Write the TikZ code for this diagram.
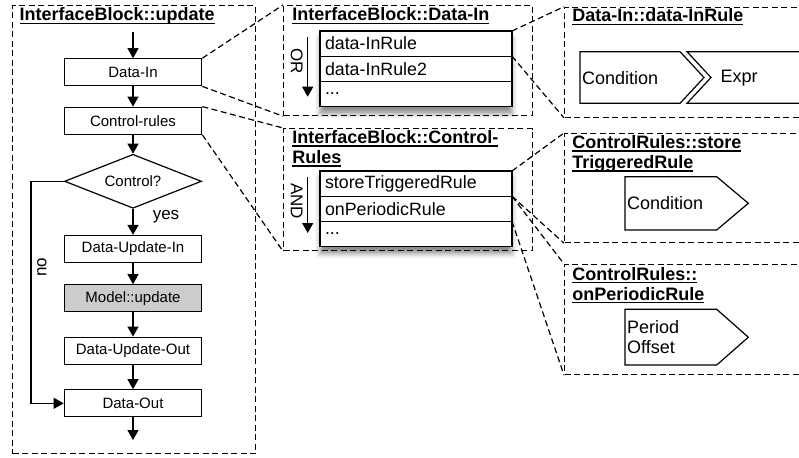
\documentclass[tikz,border=0pt]{standalone}
\usepackage{fontspec}
\setmainfont{Liberation Sans}
\usepackage{tikz}
\usetikzlibrary{arrows.meta,positioning,shapes.geometric,fit,backgrounds,shadows.blur}

\newsavebox\ulbox
\newcommand{\ultext}[1]{\sbox\ulbox{#1}\rlap{\rule[-3.4pt]{\wd\ulbox}{1.3pt}}\usebox\ulbox}

\begin{document}
\begin{tikzpicture}[x=1pt,y=-1pt,line width=1.2pt,
    flowbox/.style={draw,minimum width=137.5pt,minimum height=27pt,inner sep=0pt,font=\fontsize{15}{18}\selectfont},
    decision/.style={draw,diamond,aspect=2.5,minimum width=137pt,minimum height=54pt,inner sep=0pt,font=\fontsize{15}{18}\selectfont},
    flowlabel/.style={inner sep=0pt,font=\fontsize{17}{20}\selectfont},
    oplabel/.style={inner sep=0pt,rotate=-90,font=\fontsize{17}{20}\selectfont},
    zoomframe/.style={draw,dash pattern=on 6pt off 3.5pt,inner sep=0pt,anchor=north west},
    zoomline/.style={dash pattern=on 6pt off 3.5pt},
    boxtitle/.style={anchor=base west,inner sep=0pt,align=left,font=\fontsize{18}{20}\selectfont\bfseries},
    rulerow/.style={draw,fill=white,text width=182pt,inner xsep=5pt,inner ysep=0pt,outer sep=0pt,minimum height=25.2pt,align=left,font=\fontsize{17.8}{20}\selectfont},
    ruletext/.style={anchor=west,inner sep=1pt,align=left,font=\fontsize{18}{20.6}\selectfont},
    flowarrow/.style={-{Triangle[length=10pt,width=11pt]}},
    shadowed/.style={blur shadow={shadow xshift=0pt,shadow yshift=-7pt,shadow blur radius=5pt,shadow opacity=45}}
  ]
  \useasboundingbox (0,0) rectangle (799,457);

  % InterfaceBlock::update
  \node[zoomframe,minimum width=243pt,minimum height=448pt] (fupd) at (12,5) {};
  \node[boxtitle] (tupd) at (19,21) {\ultext{InterfaceBlock::update}};
  \coordinate (start) at (133,32);
  \node[flowbox] (din) at (133,72.3) {Data-In};
  \node[flowbox] (ctrl) at (133,120.7) {Control-rules};
  \node[decision] (dec) at (133,181.3) {Control?};
  \node[flowbox] (dui) at (133,249) {Data-Update-In};
  \node[flowbox,fill=gray!40] (model) at (133,298.3) {Model::update};
  \node[flowbox] (duo) at (133,350.7) {Data-Update-Out};
  \node[flowbox] (dout) at (133,403.3) {Data-Out};
  \coordinate (stop) at (133,440);
  \coordinate (nox) at (31,300);
  \path[flowarrow]
    (start) edge (din)
    (din) edge (ctrl)
    (ctrl) edge (dec)
    (dec) edge (dui)
    (dui) edge (model)
    (model) edge (duo)
    (duo) edge (dout)
    (dout) edge (stop);
  \draw[flowarrow] (dec.west) -| (nox) |- (dout.west);
  \node[flowlabel] (yes) at (166,217) {yes};
  \node[flowlabel,rotate=90] (no) at (42,267) {no};

  % InterfaceBlock::Data-In
  \node[zoomframe,minimum width=248.7pt,minimum height=110pt] (fdin) at (283,5) {};
  \node[boxtitle] (tdin) at (291.7,20.7) {\ultext{InterfaceBlock::Data-In}};
  \node[rulerow,anchor=north west] (r11) at (320,31) {data-InRule};
  \node[rulerow,below=0pt of r11] (r12) {data-InRule2};
  \node[rulerow,below=0pt of r12] (r13) {...};
  \coordinate (or1) at (307.7,36.7);
  \coordinate (or2) at (307.7,96.7);
  \draw[flowarrow] (or1) -- (or2);
  \node[oplabel] (or) at (296.7,61) {OR};

  % InterfaceBlock::Control-Rules
  \node[zoomframe,minimum width=248.7pt,minimum height=122pt] (fctl) at (283,128) {};
  \node[boxtitle] (tctl) at (291.7,163.3) {\ultext{InterfaceBlock::Control-}\\\ultext{Rules}};
  \node[rulerow,anchor=north west] (r21) at (320,171) {storeTriggeredRule};
  \node[rulerow,below=0pt of r21] (r22) {onPeriodicRule};
  \node[rulerow,below=0pt of r22] (r23) {...};
  \coordinate (and1) at (307.7,176.7);
  \coordinate (and2) at (307.7,233);
  \draw[flowarrow] (and1) -- (and2);
  \node[oplabel] (and) at (296.7,201) {AND};

  \begin{scope}[on background layer]
    \node[fit=(r11)(r13),inner sep=0pt,fill=white,shadowed] (tab1) {};
    \node[fit=(r21)(r23),inner sep=0pt,fill=white,shadowed] (tab2) {};
  \end{scope}

  % Data-In::data-InRule
  \node[zoomframe,minimum width=270pt,minimum height=110pt] (fcond) at (564,6.7) {};
  \node[boxtitle] (tcond) at (571.7,21.7) {\ultext{Data-In::data-InRule}};
  \draw (580,51.7) -- (680,51.7) -- (704,77.5) -- (680,103.3) -- (580,103.3) -- cycle;
  \draw (687,51.7) -- (830,51.7) -- (830,103.3) -- (687,103.3) -- (711,77.5) -- cycle;
  \node[ruletext] (cond1) at (580.5,78) {Condition};
  \node[ruletext] (expr) at (719,78) {Expr};

  % ControlRules::storeTriggeredRule
  \node[zoomframe,minimum width=270pt,minimum height=109pt] (fstore) at (564,133) {};
  \node[boxtitle] (tstore) at (571.7,168.3) {\ultext{ControlRules::store}\\\ultext{TriggeredRule}};
  \draw (625,176.7) -- (716.7,176.7) -- (748.3,203.3) -- (716.7,230) -- (625,230) -- cycle;
  \node[ruletext] (cond2) at (625.5,203) {Condition};

  % ControlRules::onPeriodicRule
  \node[zoomframe,minimum width=270pt,minimum height=110pt] (fperiod) at (564,264) {};
  \node[boxtitle] (tperiod) at (571.7,300) {\ultext{ControlRules::}\\\ultext{onPeriodicRule}};
  \draw (625,309.3) -- (716.7,309.3) -- (748.3,337.2) -- (716.7,365) -- (625,365) -- cycle;
  \node[ruletext] (period) at (625.5,337) {Period\\Offset};

  % zoom connectors
  \draw[zoomline]
    (din.north east) -- (fdin.north west)
    (din.south east) -- (fdin.south west)
    (ctrl.north east) -- (fctl.north west)
    (ctrl.south east) -- (fctl.south west)
    (r11.north east) -- (fcond.north west)
    (r11.south east) -- (fcond.south west)
    (r21.north east) -- (fstore.north west)
    (r21.south east) -- (fstore.south west)
    (r22.north east) -- (fperiod.north west)
    (r22.south east) -- (fperiod.south west);
\end{tikzpicture}
\end{document}
